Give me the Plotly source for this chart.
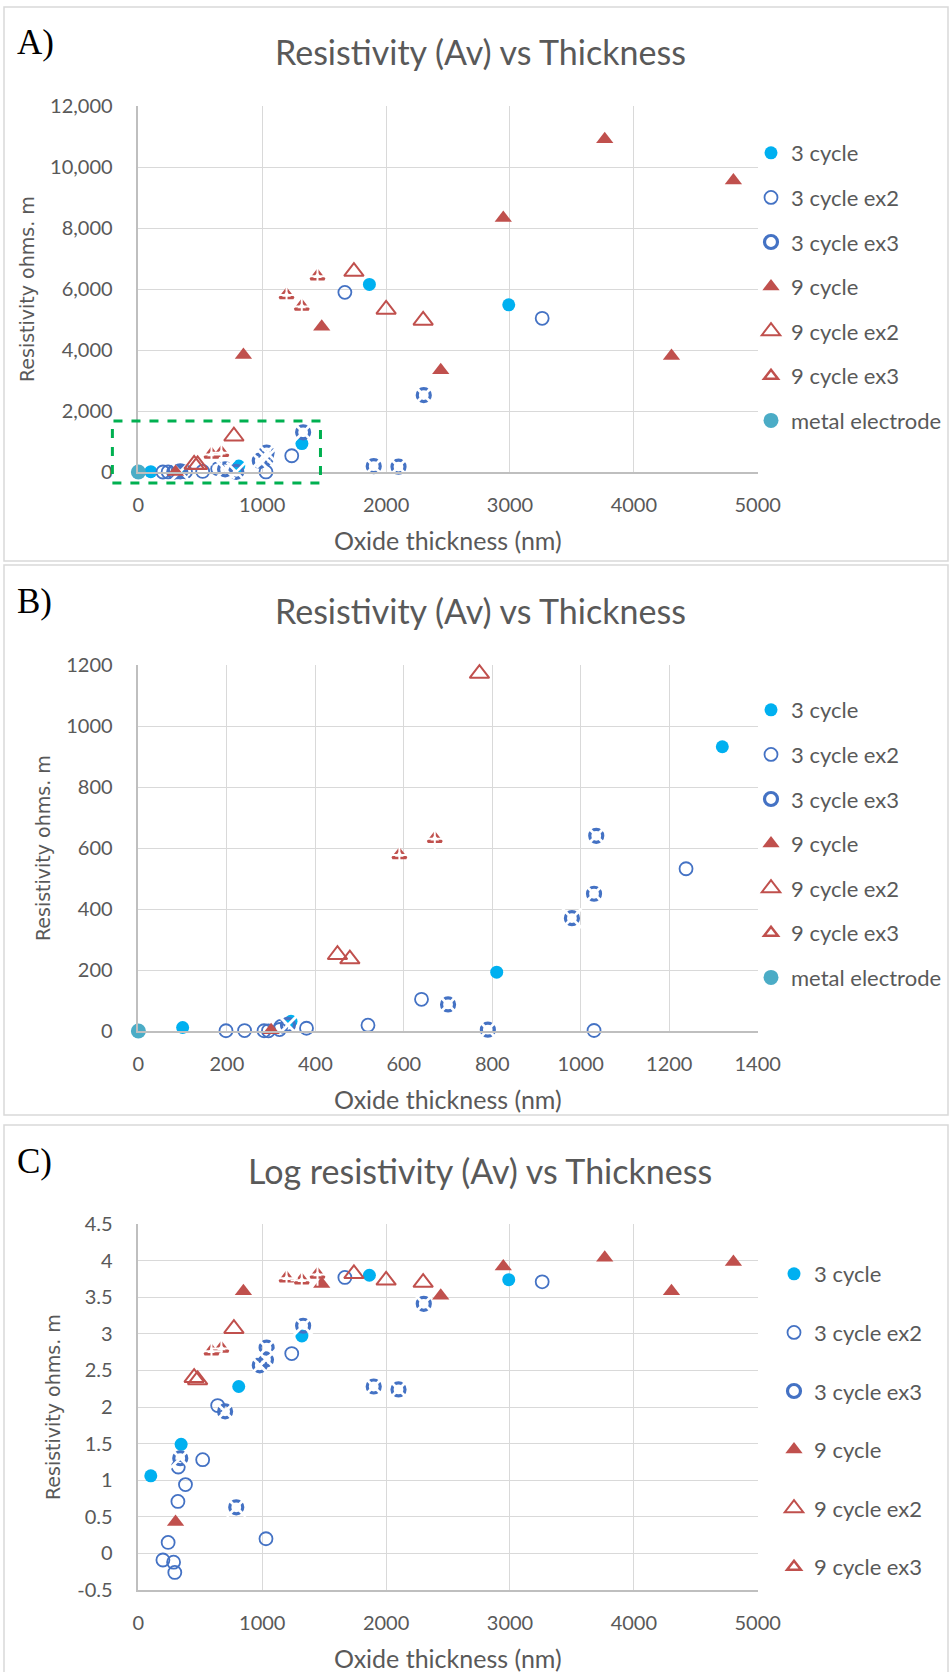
import plotly.graph_objects as go

W, H = 952, 1672
FONT = "Lato, 'Open Sans', sans-serif"
GREY = "#595959"

# ---------------- data ----------------
series_names = ["3 cycle", "3 cycle ex2", "3 cycle ex3", "9 cycle",
                "9 cycle ex2", "9 cycle ex3", "metal electrode"]

thk_3c = [100, 345, 810, 1320, 1865, 2990]
res_3c = [11.5, 32, 193, 932, 6150, 5480]
log_3c = [1.06, 1.49, 2.28, 2.97, 3.80, 3.74]

thk_3c_ex2 = [198, 240, 284, 294, 319, 322, 380, 519, 640, 1030, 1238, 1667, 3260]
res_3c_ex2 = [0.8, 1.4, 0.8, 0.6, 5, 15, 9, 19, 104, 1.6, 532, 5890, 5040]
log_3c_ex2 = [-0.09, 0.15, -0.12, -0.26, 0.71, 1.18, 0.94, 1.28, 2.02, 0.20, 2.73, 3.77, 3.71]

thk_3c_ex3 = [338, 700, 790, 980, 1030, 1035, 1330, 1900, 2100, 2304]
res_3c_ex3 = [20, 87, 4.3, 370, 450, 640, 1300, 190, 175, 2520]
log_3c_ex3 = [1.30, 1.94, 0.63, 2.57, 2.65, 2.81, 3.11, 2.28, 2.24, 3.41]

thk_9c = [300, 848, 1480, 2441, 2946, 3765, 4304, 4804]
res_9c = [2.7, 3840, 4760, 3340, 8330, 10910, 3800, 9560]
log_9c = [0.43, 3.58, 3.68, 3.52, 3.92, 4.04, 3.58, 3.98]

thk_9c_ex2 = [450, 478, 771, 1740, 2000, 2299]
res_9c_ex2 = [250, 236, 1172, 6570, 5330, 4970]
log_9c_ex2 = [2.40, 2.37, 3.07, 3.82, 3.73, 3.70]

thk_9c_ex3 = [590, 670, 1196, 1319, 1446]
res_9c_ex3 = [577, 630, 5800, 5430, 6420]
log_9c_ex3 = [2.76, 2.80, 3.76, 3.73, 3.81]

thk_metal = [0]
res_metal = [0]

panel_labels = ["A)", "B)", "C)"]
panel_titles = ["Resistivity (Av) vs Thickness", "Resistivity (Av) vs Thickness",
                "Log resistivity (Av) vs Thickness"]
x_title = "Oxide thickness (nm)"
y_title = "Resistivity ohms. m"

xticks_A = [0, 1000, 2000, 3000, 4000, 5000]
yticks_A = [0, 2000, 4000, 6000, 8000, 10000, 12000]
xticks_B = [0, 200, 400, 600, 800, 1000, 1200, 1400]
yticks_B = [0, 200, 400, 600, 800, 1000, 1200]
xticks_C = [0, 1000, 2000, 3000, 4000, 5000]
yticks_C = [-0.5, 0, 0.5, 1, 1.5, 2, 2.5, 3, 3.5, 4, 4.5]

lin_data = {
    "3 cycle": (thk_3c, res_3c),
    "3 cycle ex2": (thk_3c_ex2, res_3c_ex2),
    "3 cycle ex3": (thk_3c_ex3, res_3c_ex3),
    "9 cycle": (thk_9c, res_9c),
    "9 cycle ex2": (thk_9c_ex2, res_9c_ex2),
    "9 cycle ex3": (thk_9c_ex3, res_9c_ex3),
    "metal electrode": (thk_metal, res_metal),
}
log_data = {
    "3 cycle": (thk_3c, log_3c),
    "3 cycle ex2": (thk_3c_ex2, log_3c_ex2),
    "3 cycle ex3": (thk_3c_ex3, log_3c_ex3),
    "9 cycle": (thk_9c, log_9c),
    "9 cycle ex2": (thk_9c_ex2, log_9c_ex2),
    "9 cycle ex3": (thk_9c_ex3, log_9c_ex3),
}

# ---------------- styles ----------------
BLUE = "#4472C4"
RED = "#C0504D"
styles = {
    "3 cycle": dict(symbol="circle", size=13, color="#00B0F0", line=dict(width=0)),
    "3 cycle ex2": dict(symbol="circle-open", size=13, color=BLUE, line=dict(width=1.8, color=BLUE)),
    "3 cycle ex3": dict(symbol="circle-open", size=13, color=BLUE, line=dict(width=3.2, color=BLUE)),
    "9 cycle": dict(symbol="triangle-up", size=15, color=RED, line=dict(width=0)),
    "9 cycle ex2": dict(symbol="triangle-up-open", size=17, color=RED, line=dict(width=2, color=RED)),
    "9 cycle ex3": dict(symbol="triangle-up-open", size=12, color=RED, line=dict(width=2.5, color=RED)),
    "metal electrode": dict(symbol="circle", size=15, color="#4BACC6", line=dict(width=0)),
}
# white cuts to imitate Excel's dashed marker borders
cuts = {
    "3 cycle ex3": dict(symbol="x-thin-open", size=19, color="white", line=dict(width=2.8, color="white")),
    "9 cycle ex3": dict(symbol="cross-thin-open", size=16, color="white", line=dict(width=2, color="white")),
}

# ---------------- layout geometry (pixels) ----------------
PLOT_L, PLOT_R = 138.4, 757.7
panels = [
    dict(top=106, bot=472, xr=[0, 5000], yr=[0, 12000], xt=xticks_A, yt=yticks_A,
         data=lin_data, fmt=lambda v: f"{v:,}", box=(7, 561), leg_x=751, leg_top=132, gap=13,
         ytitle_x=27),
    dict(top=665, bot=1031, xr=[0, 1400], yr=[0, 1200], xt=xticks_B, yt=yticks_B,
         data=lin_data, fmt=lambda v: f"{v}", box=(565, 1115), leg_x=751, leg_top=689, gap=13,
         ytitle_x=43),
    dict(top=1224, bot=1590, xr=[0, 5000], yr=[-0.5, 4.5], xt=xticks_C, yt=yticks_C,
         data=log_data, fmt=lambda v: f"{v:g}", box=(1125, 1700), leg_x=774, leg_top=1253, gap=27,
         ytitle_x=53),
]

def px2x(p):
    return p / W

def py2y(p):
    return 1 - p / H

fig = go.Figure()
layout = dict(width=W, height=H, margin=dict(l=0, r=0, t=0, b=0, autoexpand=False),
              paper_bgcolor="white", plot_bgcolor="white", showlegend=True)
annotations = []
shapes = []

for i, p in enumerate(panels):
    n = "" if i == 0 else str(i + 1)
    xa, ya = "x" + n, "y" + n
    legname = "legend" + n
    xdom = [px2x(PLOT_L), px2x(PLOT_R)]
    ydom = [py2y(p["bot"]), py2y(p["top"])]
    common = dict(showgrid=True, gridcolor="#D9D9D9", gridwidth=1.3, zeroline=False,
                  showline=True, linecolor="#BFBFBF", linewidth=1.5, ticks="",
                  tickfont=dict(family=FONT, size=20, color=GREY), fixedrange=True,
                  automargin=False)
    layout["xaxis" + n] = dict(common, domain=xdom, range=p["xr"], anchor=ya,
                               tickvals=p["xt"], ticktext=[str(v) for v in p["xt"]],
                               ticklabelstandoff=14)
    layout["yaxis" + n] = dict(common, domain=ydom, range=p["yr"], anchor=xa,
                               tickvals=p["yt"], ticktext=[p["fmt"](v) for v in p["yt"]],
                               ticklabelstandoff=20)
    layout[legname] = dict(x=px2x(p["leg_x"]), xanchor="left", y=py2y(p["leg_top"]), yanchor="top",
                           font=dict(family=FONT, size=22, color=GREY), bgcolor="rgba(0,0,0,0)",
                           tracegroupgap=p["gap"], itemwidth=30, traceorder="grouped")

    for name in series_names:
        if name not in p["data"]:
            continue
        xs, ys = p["data"][name]
        pts = [(a, b) for a, b in zip(xs, ys)
               if p["xr"][0] <= a <= p["xr"][1] and p["yr"][0] <= b <= p["yr"][1]]
        px_ = [a for a, _ in pts]
        py_ = [b for _, b in pts]
        fig.add_trace(go.Scatter(x=px_, y=py_, mode="markers", name=name, xaxis=xa, yaxis=ya,
                                 legend=legname, legendgroup=name + n, marker=styles[name],
                                 cliponaxis=False))
        if name in cuts:
            fig.add_trace(go.Scatter(x=px_, y=py_, mode="markers", name=name, xaxis=xa, yaxis=ya,
                                     legend=legname, legendgroup=name + n, marker=cuts[name],
                                     showlegend=False, hoverinfo="skip", cliponaxis=False))

    # panel border
    shapes.append(dict(type="rect", xref="paper", yref="paper", x0=px2x(4), x1=px2x(948),
                       y0=py2y(p["box"][1]), y1=py2y(p["box"][0]),
                       line=dict(color="#D9D9D9", width=1.5), layer="below"))
    cy_plot = (p["top"] + p["bot"]) / 2
    annotations += [
        dict(text=panel_labels[i], xref="paper", yref="paper", x=px2x(15), y=py2y(p["box"][0] + 36),
             xanchor="left", yanchor="middle", showarrow=False,
             font=dict(family="Liberation Serif, 'Times New Roman', serif", size=35, color="black")),
        dict(text=panel_titles[i], xref="paper", yref="paper", x=px2x(480), y=py2y(p["top"] - 54),
             xanchor="center", yanchor="middle", showarrow=False,
             font=dict(family=FONT, size=34, color=GREY)),
        dict(text=x_title, xref="paper", yref="paper", x=px2x((PLOT_L + PLOT_R) / 2),
             y=py2y(p["bot"] + 68), xanchor="center", yanchor="middle", showarrow=False,
             font=dict(family=FONT, size=25, color=GREY)),
        dict(text=y_title, xref="paper", yref="paper", x=px2x(p["ytitle_x"]), y=py2y(cy_plot),
             xanchor="center", yanchor="middle", textangle=-90, showarrow=False,
             font=dict(family="'DejaVu Sans', Verdana, sans-serif", size=19, color=GREY)),
    ]

# green dashed highlight box in panel A (data units)
zoom_box_x = [-210, 1470]
zoom_box_y = [-360, 1670]
pA = panels[0]
def dx(v):
    return px2x(PLOT_L + (v - pA["xr"][0]) / (pA["xr"][1] - pA["xr"][0]) * (PLOT_R - PLOT_L))
def dy(v):
    return py2y(pA["bot"] - (v - pA["yr"][0]) / (pA["yr"][1] - pA["yr"][0]) * (pA["bot"] - pA["top"]))
shapes.append(dict(type="rect", xref="paper", yref="paper",
                   x0=dx(zoom_box_x[0]), x1=dx(zoom_box_x[1]),
                   y0=dy(zoom_box_y[0]), y1=dy(zoom_box_y[1]),
                   line=dict(color="#00B050", width=3, dash="dash"), layer="above"))

layout["annotations"] = annotations
layout["shapes"] = shapes
fig.update_layout(**layout)
fig.write_html("out.html", config={"displayModeBar": False},
               post_script="document.body.style.margin='0px';document.body.style.overflow='hidden';")
